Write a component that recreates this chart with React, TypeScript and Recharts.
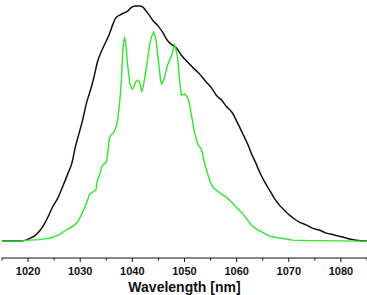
import React from "react";
import { LineChart, Line, XAxis, YAxis, Label } from "recharts";

// Wavelength axis ticks (nm)
const TICKS = [1015, 1020, 1025, 1030, 1035, 1040, 1045, 1050, 1055, 1060, 1065, 1070, 1075, 1080, 1085];

// Broad (black) spectrum
const blackWl = [
  1015.0, 1018.4, 1019.6, 1020.3, 1021.3, 1022.2, 1023.0, 1023.8, 1024.7, 1025.7, 1026.6, 1027.6, 1028.4,
  1029.1, 1029.9, 1030.5, 1031.2, 1031.8, 1032.6, 1033.3, 1034.1, 1034.9, 1035.6, 1036.2, 1036.8, 1037.6,
  1038.3, 1039.1, 1039.9, 1040.6, 1041.4, 1042.0, 1042.5, 1043.1, 1043.9, 1044.8, 1045.8, 1046.7, 1047.7,
  1048.5, 1049.4, 1050.6, 1051.7, 1052.9, 1054.0, 1055.2, 1056.1, 1057.1, 1058.0, 1059.2, 1060.1, 1061.1,
  1062.1, 1062.8, 1063.6, 1064.4, 1065.3, 1066.3, 1067.2, 1068.2, 1069.1, 1070.1, 1071.1, 1072.0, 1073.4,
  1074.5, 1075.8, 1077.2, 1078.7, 1080.3, 1081.6, 1082.9, 1085.0,
];
const blackI = [
  0, 0, 0.004, 0.011, 0.023, 0.043, 0.068, 0.102, 0.145, 0.183, 0.23, 0.285, 0.332,
  0.404, 0.468, 0.519, 0.587, 0.63, 0.694, 0.762, 0.809, 0.847, 0.881, 0.919, 0.949, 0.962,
  0.97, 0.979, 0.996, 1.0, 1.0, 0.996, 0.983, 0.966, 0.94, 0.919, 0.889, 0.855, 0.834,
  0.821, 0.791, 0.762, 0.736, 0.711, 0.681, 0.651, 0.621, 0.6, 0.574, 0.545, 0.506, 0.46,
  0.413, 0.374, 0.336, 0.294, 0.255, 0.217, 0.183, 0.153, 0.132, 0.111, 0.094, 0.081, 0.068,
  0.055, 0.047, 0.034, 0.026, 0.017, 0.009, 0.004, 0,
];

// Structured (green) spectrum
const greenWl = [
  1015.0, 1018.4, 1020.3, 1022.2, 1024.2, 1025.3, 1026.1, 1027.0, 1028.0, 1028.9, 1029.5, 1030.1, 1030.7,
  1031.0, 1031.4, 1031.8, 1032.4, 1033.0, 1033.3, 1033.7, 1034.1, 1034.5, 1034.9, 1035.1, 1035.4, 1035.6,
  1036.0, 1036.4, 1036.8, 1037.2, 1037.6, 1037.9, 1038.1, 1038.3, 1038.5, 1038.7, 1038.9, 1039.1, 1039.5,
  1039.9, 1040.2, 1040.6, 1041.0, 1041.4, 1041.6, 1041.8, 1042.1, 1042.5, 1042.9, 1043.3, 1043.7, 1044.1,
  1044.4, 1044.6, 1044.8, 1045.2, 1045.4, 1045.6, 1046.0, 1046.4, 1046.7, 1047.1, 1047.5, 1047.9, 1048.1,
  1048.3, 1048.7, 1049.0, 1049.4, 1050.0, 1050.4, 1050.8, 1051.1, 1051.5, 1051.9, 1052.3, 1052.7, 1053.1,
  1053.4, 1053.8, 1054.4, 1055.0, 1055.6, 1056.3, 1057.1, 1058.0, 1059.2, 1060.1, 1061.1, 1062.1, 1062.8,
  1063.8, 1064.9, 1066.3, 1068.2, 1070.7, 1073.9, 1085.0,
];
const greenI = [
  0, 0, 0.004, 0.006, 0.013, 0.021, 0.03, 0.043, 0.055, 0.068, 0.081, 0.106, 0.136,
  0.149, 0.174, 0.2, 0.209, 0.217, 0.26, 0.281, 0.315, 0.328, 0.332, 0.345, 0.396, 0.438,
  0.455, 0.46, 0.481, 0.515, 0.6, 0.685, 0.779, 0.847, 0.864, 0.847, 0.8, 0.749, 0.672,
  0.647, 0.651, 0.677, 0.685, 0.677, 0.655, 0.638, 0.66, 0.711, 0.77, 0.834, 0.872, 0.889,
  0.872, 0.847, 0.804, 0.728, 0.685, 0.668, 0.685, 0.719, 0.745, 0.77, 0.787, 0.821, 0.834,
  0.821, 0.779, 0.694, 0.621, 0.626, 0.617, 0.6, 0.566, 0.515, 0.464, 0.43, 0.404, 0.396,
  0.379, 0.336, 0.289, 0.247, 0.226, 0.213, 0.2, 0.187, 0.162, 0.14, 0.119, 0.089, 0.068,
  0.051, 0.038, 0.021, 0.013, 0.004, 0.002, 0,
];

const blackData = blackWl.map((wl, i) => ({ wl, v: blackI[i] }));
const greenData = greenWl.map((wl, i) => ({ wl, v: greenI[i] }));

const FONT = "'Liberation Sans', Arial, Helvetica, sans-serif";

function AxisTick(props: any) {
  const { x, y, payload } = props;
  const major = payload.value % 10 === 0 && payload.value !== 1090;
  const isLabeled = major && payload.value >= 1020 && payload.value <= 1080;
  return (
    <g>
      <line x1={x} x2={x} y1={y} y2={y + (major ? 4 : 2.5)} stroke="#111" strokeWidth={1} />
      {isLabeled && (
        <text x={x} y={y + 17} textAnchor="middle" fontSize={11} fontWeight="bold" fontFamily={FONT} fill="#111">
          {payload.value}
        </text>
      )}
    </g>
  );
}

export default function App() {
  return (
    <div style={{ position: "absolute", left: 0, top: 0, width: 367, height: 295, background: "#fff" }}>
      <LineChart width={367} height={295} margin={{ top: 0, right: 0, bottom: 0, left: 2 }}>
        <XAxis
          type="number"
          dataKey="wl"
          domain={[1015, 1085]}
          allowDataOverflow
          ticks={TICKS}
          interval={0}
          tickSize={0}
          tickMargin={0}
          tickLine={false}
          tick={<AxisTick />}
          axisLine={{ stroke: "#111", strokeWidth: 1 }}
          height={37}
        >
          <Label
            value="Wavelength [nm]"
            position="insideBottom"
            offset={3}
            style={{ fontSize: 14, fontWeight: "bold", fontFamily: FONT, fill: "#111" }}
          />
        </XAxis>
        <YAxis hide type="number" domain={[-0.072, 1.026]} allowDataOverflow />
        <Line
          data={blackData}
          dataKey="v"
          type="monotone"
          stroke="#111"
          strokeWidth={1.5}
          dot={false}
          activeDot={false}
          isAnimationActive={false}
        />
        <Line
          data={greenData}
          dataKey="v"
          type="linear"
          stroke="#2fe62f"
          strokeWidth={1.4}
          dot={false}
          activeDot={false}
          isAnimationActive={false}
        />
      </LineChart>
    </div>
  );
}
